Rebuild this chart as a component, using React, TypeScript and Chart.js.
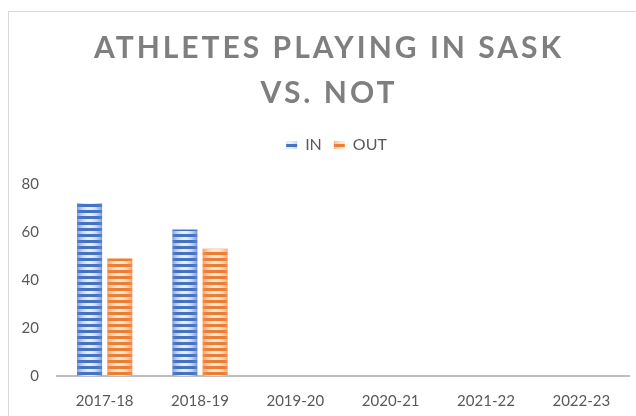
import React, { useEffect, useRef } from "react";
import { Chart, registerables } from "chart.js";

Chart.register(...registerables);

const categories = ["2017-18", "2018-19", "2019-20", "2020-21", "2021-22", "2022-23"];
const inValues: (number | null)[] = [72, 61, null, null, null, null];
const outValues: (number | null)[] = [49, 53, null, null, null, null];
const seriesNames = ["IN", "OUT"];
const titleLines = ["ATHLETES PLAYING IN SASK", "VS. NOT"];
const yMin = 0;
const yMax = 80;
const yStep = 20;

const CAT_PCT = 0.634;
const BAR_PCT = 0.83;

type Pal = { dark: [number, number, number]; edge: [number, number, number]; center: [number, number, number] };
const palettes: Pal[] = [
  { dark: [68, 114, 196], edge: [120, 151, 212], center: [232, 238, 249] },
  { dark: [237, 125, 49], edge: [242, 160, 104], center: [253, 232, 217] },
];

function rgb(c: number[]) {
  return `rgb(${c.map((v) => Math.round(v)).join(",")})`;
}
function lerp(a: number[], b: number[], t: number) {
  return a.map((v, i) => v + (b[i] - v) * t);
}

function makePattern(pal: Pal, width: number, left: number) {
  const w = Math.max(2, Math.round(width));
  const c = document.createElement("canvas");
  c.width = w;
  c.height = 6;
  const g = c.getContext("2d")!;
  for (let x = 0; x < w; x++) {
    const u = (x + 0.5) / w;
    const t = Math.pow(Math.sin(Math.PI * u), 0.8);
    g.fillStyle = rgb(lerp(pal.edge, pal.center, t));
    g.fillRect(x, 3, 1, 3);
    g.fillStyle = rgb(lerp(lerp(pal.dark, [255, 255, 255], 0.12), pal.dark, Math.min(1, t * 1.6)));
    g.fillRect(x, 0, 1, 3);
  }
  const p = g.createPattern(c, "repeat")!;
  if ((p as any).setTransform) p.setTransform(new DOMMatrix().translate(Math.round(left), 0));
  return p;
}

function barFill(dsIndex: number) {
  return (ctx: any) => {
    const pal = palettes[dsIndex];
    const xs = ctx.chart.scales?.x;
    if (ctx.type !== "data" || !xs || !xs.width) {
      return makePattern(pal, 11, 0);
    }
    const center = xs.getPixelForValue(ctx.dataIndex);
    const catW = xs.width / categories.length;
    const slot = (catW * CAT_PCT) / 2;
    const barW = slot * BAR_PCT;
    const bc = center + (dsIndex === 0 ? -slot / 2 : slot / 2);
    return makePattern(pal, barW, bc - barW / 2);
  };
}

const framePlugin = {
  id: "frameAndTitle",
  afterLayout(chart: any) {
    const lg = chart.legend;
    if (lg) {
      lg.left += 22;
      lg.right += 22;
    }
  },
  beforeDraw(chart: any) {
    const ctx = chart.ctx as CanvasRenderingContext2D;
    ctx.save();
    ctx.fillStyle = "#ffffff";
    ctx.fillRect(0, 0, chart.width, chart.height);
    ctx.strokeStyle = "#d9d9d9";
    ctx.lineWidth = 1;
    ctx.strokeRect(8.5, 11.5, 800, 600);
    ctx.restore();
  },
  afterDraw(chart: any) {
    const ctx = chart.ctx as any;
    ctx.save();
    ctx.font = "bold 30px Lato";
    ctx.letterSpacing = "3px";
    ctx.fillStyle = "#7f7f7f";
    ctx.textAlign = "center";
    ctx.textBaseline = "middle";
    ctx.fillText(titleLines[0], 329, 48);
    ctx.fillText(titleLines[1], 329, 93);
    ctx.restore();
  },
};

export default function App() {
  const ref = useRef<HTMLCanvasElement>(null);
  useEffect(() => {
    const chart = new Chart(ref.current!, {
      type: "bar",
      data: {
        labels: categories,
        datasets: [
          { label: seriesNames[0], data: inValues, backgroundColor: barFill(0) as any, borderWidth: 0 },
          { label: seriesNames[1], data: outValues, backgroundColor: barFill(1) as any, borderWidth: 0 },
        ],
      },
      options: {
        responsive: false,
        animation: false,
        devicePixelRatio: 1,
        layout: { padding: { top: 125, left: 0, right: 7, bottom: 0 } },
        datasets: { bar: { categoryPercentage: CAT_PCT, barPercentage: BAR_PCT } },
        plugins: {
          title: { display: false },
          subtitle: {
            display: true,
            text: "",
            weight: 500,
            position: "top",
            font: { size: 1, lineHeight: 1 },
            padding: { top: 0, bottom: 20 },
          } as any,
          tooltip: { enabled: false },
          legend: {
            position: "top",
            align: "center",
            labels: {
              boxWidth: 11,
              boxHeight: 8,
              padding: 12,
              color: "#595959",
              font: { family: "Lato", size: 16 },
            },
          },
        },
        scales: {
          x: {
            grid: { display: false },
            border: { display: true, color: "#bfbfbf", width: 2 },
            ticks: { color: "#595959", font: { family: "Lato", size: 15 }, padding: 8 },
            afterFit(scale: any) {
              scale.height = 40;
            },
          },
          y: {
            min: yMin,
            max: yMax,
            grid: { display: false },
            border: { display: false },
            ticks: {
              stepSize: yStep,
              color: "#595959",
              font: { family: "Lato", size: 15 },
              padding: 10,
            },
            afterFit(scale: any) {
              scale.width = 57;
            },
          },
        },
      },
      plugins: [framePlugin],
    });
    return () => chart.destroy();
  }, []);
  return (
    <div style={{ position: "fixed", left: 0, top: 0, width: 636, height: 416, background: "#fff" }}>
      <canvas ref={ref} width={636} height={416} />
    </div>
  );
}
